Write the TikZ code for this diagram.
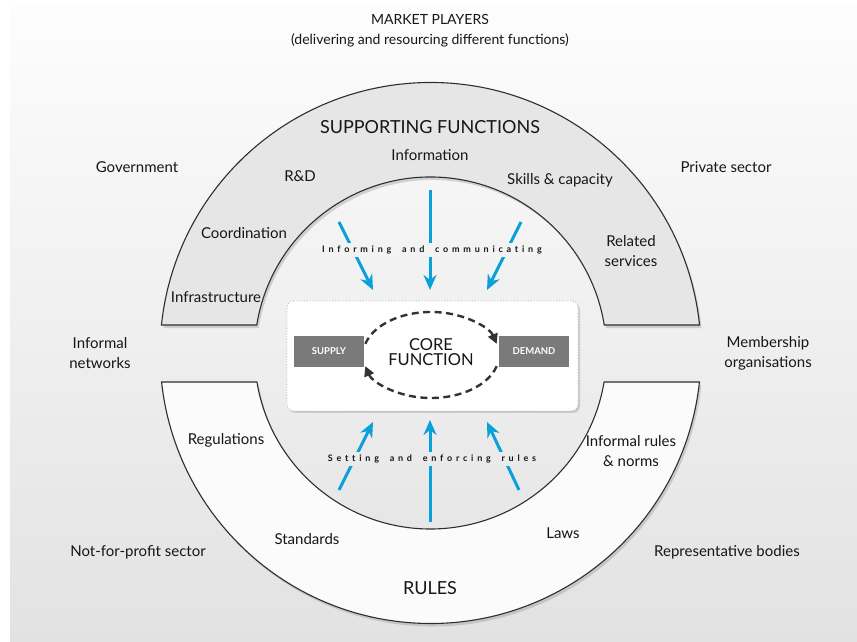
\documentclass[tikz,border=0pt]{standalone}
\usepackage{fontspec}
\setmainfont{Lato}
\newfontfamily\spacedfont[LetterSpace=42,WordSpace=1.8,Ligatures={NoCommon}]{Lato}
\usetikzlibrary{arrows.meta,shadows,calc}
\definecolor{bgtop}{HTML}{FDFDFD}
\definecolor{bgbot}{HTML}{E2E2E2}
\definecolor{bandgray}{HTML}{E6E6E6}
\definecolor{bandwhite}{HTML}{FBFBFB}
\definecolor{arrowblue}{HTML}{0AA0DA}
\definecolor{txt}{HTML}{161616}
\definecolor{boxgray}{HTML}{7A7A7A}
\definecolor{edgecol}{HTML}{2E2E2E}
\definecolor{cyclecol}{HTML}{333333}
\begin{document}
\begin{tikzpicture}[x=1pt,y=1pt,
  lbl/.style={text=txt,font=\fontsize{15}{20}\selectfont,align=center,inner sep=0pt},
  bigl/.style={text=txt,font=\fontsize{18}{18}\selectfont,align=center,inner sep=0pt},
  band/.style={draw=edgecol,line width=1.1pt,drop shadow={shadow xshift=2pt,shadow yshift=-3pt,opacity=0.3}},
  flow/.style={draw=arrowblue,line width=3pt,-{Stealth[length=15pt,width=13pt]}},
  sdbox/.style={fill=boxgray,text=white,font=\bfseries\fontsize{9.5}{10}\selectfont,minimum width=70pt,minimum height=31pt,inner sep=0pt},
  corecycle/.style={draw=cyclecol,line width=2.4pt,dash pattern=on 7pt off 4.5pt,-{Triangle[length=10pt,width=10pt]}},
  spaced/.style={text=txt,font=\spacedfont\bfseries\fontsize{9}{10}\selectfont,inner sep=2.5pt}
]
\useasboundingbox (0,0) rectangle (857,642);
\shade[top color=bgtop,bottom color=bgbot] (10,0) rectangle (857,639);

\coordinate (C) at (430.5,289);

% upper band (supporting functions)
\path[band,fill=bandgray] ($(C)+(5.94:270.5)$) arc[start angle=5.94,end angle=174.06,radius=270.5]
  -- ($(C)+(170.85:176)$) arc[start angle=170.85,end angle=9.15,radius=176] -- cycle;
% lower band (rules)
\path[band,fill=bandwhite] ($(C)+(-6.15:270.5)$) arc[start angle=-6.15,end angle=-173.85,radius=270.5]
  -- ($(C)+(-170.52:176)$) arc[start angle=-170.52,end angle=-9.48,radius=176] -- cycle;

% core box
\node[draw=gray!60,dotted,line width=0.8pt,fill=white,rounded corners=7pt,minimum width=291pt,minimum height=110pt,
  drop shadow={shadow xshift=2pt,shadow yshift=-2pt,opacity=0.3}] (core) at (432.5,286) {};
\node[sdbox] (supply) at (329,290.5) {SUPPLY};
\node[sdbox] (demand) at (534,290.5) {DEMAND};
\node[bigl,font=\fontsize{16.5}{15}\selectfont] (corefn) at (431,289.5) {CORE\\FUNCTION};

\coordinate (E) at (431,287);
\draw[corecycle] ($(E)+(165:68 and 43)$) arc[start angle=165,end angle=15,x radius=68,y radius=43];
\draw[corecycle] ($(E)+(-15:68 and 43)$) arc[start angle=-15,end angle=-165,x radius=68,y radius=43];

% blue arrows, top
\coordinate (tLs) at (339,420); \coordinate (tLe) at (373,352);
\coordinate (tCs) at (430,452); \coordinate (tCe) at (430,352);
\coordinate (tRs) at (521,420); \coordinate (tRe) at (487,352);
\draw[flow] (tLs) -- (tLe);
\draw[flow] (tCs) -- (tCe);
\draw[flow] (tRs) -- (tRe);
% blue arrows, bottom
\coordinate (bLs) at (339,152); \coordinate (bLe) at (373,220);
\coordinate (bCs) at (430,120); \coordinate (bCe) at (430,222);
\coordinate (bRs) at (519,152); \coordinate (bRe) at (487,220);
\draw[flow] (bLs) -- (bLe);
\draw[flow] (bCs) -- (bCe);
\draw[flow] (bRs) -- (bRe);

\node[spaced,fill={rgb,255:red,243;green,243;blue,243}] (inform) at (432,392) {Informing and communicating};
\node[spaced,fill={rgb,255:red,234;green,234;blue,234}] (setting) at (432,183) {Setting and enforcing rules};

% titles
\node[lbl,font=\fontsize{14}{16}\selectfont] (mp) at (430,623) {MARKET PLAYERS};
\node[lbl,font=\fontsize{14}{16}\selectfont] (mpsub) at (430,602) {(delivering and resourcing different functions)};
\node[bigl] (sf) at (430,515) {SUPPORTING FUNCTIONS};
\node[bigl] (rules) at (430,54) {RULES};

% band labels
\node[lbl] (info) at (430,487) {Information};
\node[lbl] (rd) at (300,466) {R\&D};
\node[lbl] (skills) at (560,462) {Skills \& capacity};
\node[lbl] (coord) at (244,409) {Coordination};
\node[lbl] (related) at (631,390.5) {Related\\services};
\node[lbl] (infra) at (216,345) {Infrastructure};
\node[lbl] (regs) at (226,202) {Regulations};
\node[lbl] (informal) at (631,191) {Informal rules\\\& norms};
\node[lbl] (standards) at (307,103) {Standards};
\node[lbl] (laws) at (563,109) {Laws};

% market players
\node[lbl] (gov) at (137,475) {Government};
\node[lbl] (priv) at (726,475) {Private sector};
\node[lbl] (infnet) at (100,289) {Informal\\networks};
\node[lbl] (member) at (768,289) {Membership\\organisations};
\node[lbl] (nfp) at (138,90) {Not-for-profit sector};
\node[lbl] (rep) at (727,90) {Representative bodies};
\end{tikzpicture}
\end{document}
